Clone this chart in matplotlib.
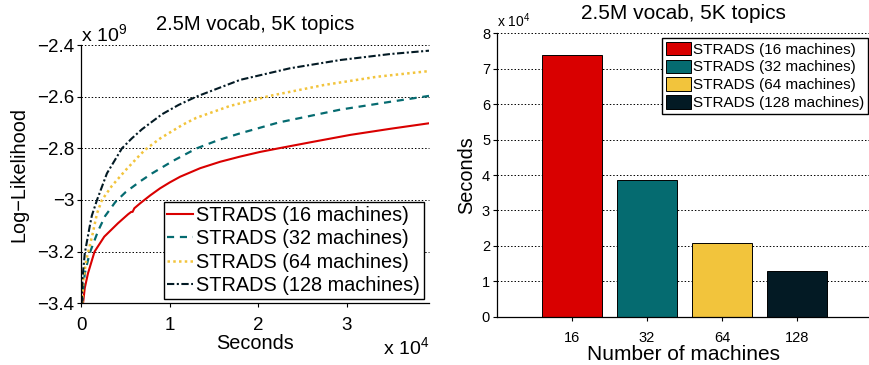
#!/usr/bin/env python3
"""STRADS LDA scaling: log-likelihood over time and time-to-converge per cluster size."""
import matplotlib

matplotlib.use("Agg")
import matplotlib.pyplot as plt

plt.rcParams["font.family"] = ["Liberation Sans", "DejaVu Sans"]
plt.rcParams["mathtext.fontset"] = "custom"
plt.rcParams["mathtext.rm"] = "Liberation Sans"

TITLE = "2.5M vocab, 5K topics"
LABELS = ["STRADS (16 machines)", "STRADS (32 machines)",
          "STRADS (64 machines)", "STRADS (128 machines)"]
COLORS = ["#d90000", "#056b70", "#f2c43c", "#031a24"]

# Left panel: seconds (x 1e4) vs log-likelihood (x 1e9).
t16 = [0.02, 0.04, 0.076, 0.15, 0.26, 0.415, 0.53, 0.565, 0.58, 0.60, 0.665,
       0.78, 0.89, 1.0, 1.117, 1.343, 1.57, 1.795, 2.02, 2.23, 2.6, 3.04,
       3.5, 3.93]
ll16 = [-3.40, -3.34, -3.284, -3.20, -3.142, -3.09, -3.055, -3.046, -3.046,
        -3.032, -3.013, -2.982, -2.955, -2.932, -2.91, -2.877, -2.852, -2.832,
        -2.814, -2.80, -2.776, -2.748, -2.724, -2.703]
t32 = [0.01, 0.02, 0.04, 0.095, 0.19, 0.27, 0.385, 0.50, 0.665, 0.80, 1.04,
       1.305, 1.55, 1.795, 2.23, 2.93, 3.49, 3.93]
ll32 = [-3.40, -3.35, -3.284, -3.206, -3.12, -3.062, -3.008, -2.97, -2.928,
        -2.897, -2.848, -2.80, -2.768, -2.742, -2.70, -2.65, -2.62, -2.597]
t64 = [0.01, 0.02, 0.057, 0.13, 0.178, 0.234, 0.347, 0.50, 0.665, 0.724,
       0.89, 1.15, 1.3, 1.68, 2.13, 2.74, 3.34, 3.93]
ll64 = [-3.40, -3.32, -3.232, -3.129, -3.052, -3.0, -2.945, -2.885, -2.825,
        -2.805, -2.762, -2.708, -2.682, -2.636, -2.597, -2.555, -2.523, -2.501]
t128 = [0.005, 0.015, 0.04, 0.095, 0.12, 0.178, 0.29, 0.46, 0.57, 0.687,
        0.913, 1.1, 1.3, 1.795, 2.36, 2.93, 3.49, 3.93]
ll128 = [-3.40, -3.30, -3.206, -3.103, -3.06, -3.0, -2.897, -2.80, -2.762,
         -2.726, -2.668, -2.632, -2.60, -2.535, -2.49, -2.458, -2.435, -2.422]

LL_TICKS = [-3.4, -3.2, -3.0, -2.8, -2.6, -2.4]
LL_TICKLABELS = ["\u22123.4", "\u22123.2", "\u22123", "\u22122.8", "\u22122.6", "\u22122.4"]
T_TICKS = [0, 1, 2, 3]

# Right panel: seconds (x 1e4) needed per number of machines.
machines = ["16", "32", "64", "128"]
seconds = [7.38, 3.85, 2.08, 1.28]

STYLES = [
    dict(ls="-", lw=1.5),
    dict(ls=(0, (3.2, 2.6)), lw=1.6),
    dict(ls=(0, (1.0, 1.3)), lw=1.8),
    dict(ls=(0, (3.5, 1.2, 1.0, 1.2)), lw=1.5),
]
GRID = dict(color="black", lw=0.7, ls=(0, (1.5, 2)), clip_on=False)

fig = plt.figure(figsize=(8.7, 3.65), dpi=100)

# ---- left: log-likelihood curves
ax = fig.add_axes([0.0934, 0.169, 0.3997, 0.7077])
series = [(t16, ll16), (t32, ll32), (t64, ll64), (t128, ll128)]
for (t, ll), lbl, c, st in zip(series, LABELS, COLORS, STYLES):
    ax.plot(t, ll, color=c, label=lbl, **st)

ax.set_xlim(0, 3.93)
ax.set_ylim(-3.4, -2.4)
ax.set_yticks(LL_TICKS)
ax.set_yticklabels(LL_TICKLABELS)
ax.set_xticks(T_TICKS)
for y in LL_TICKS:
    ax.axhline(y, zorder=0, **GRID)
ax.tick_params(labelsize=13.5, direction="out", length=3, width=0.8, pad=2)
ax.tick_params(axis="x", pad=7)
for s in ("top", "right"):
    ax.spines[s].set_visible(False)
for s in ("left", "bottom"):
    ax.spines[s].set_linewidth(0.9)
ax.set_title(TITLE, fontsize=14.5, pad=11)
ax.set_ylabel("Log\u2212Likelihood", fontsize=14.3, labelpad=6)
ax.set_xlabel("Seconds", fontsize=14.3, labelpad=0)
ax.text(0.0, 1.012, r"x 10$^{9}$", transform=ax.transAxes, fontsize=14,
        ha="left", va="baseline")
ax.text(1.0, -0.2, r"x 10$^{4}$", transform=ax.transAxes, fontsize=14,
        ha="right", va="baseline")
leg = ax.legend(loc="lower right", bbox_to_anchor=(0.986, 0.017),
                borderaxespad=0, fontsize=14.3, fancybox=False,
                edgecolor="black", framealpha=1, handlelength=1.3,
                handletextpad=0.15, labelspacing=0.22, borderpad=0.2)
leg.get_frame().set_linewidth(1.0)

# ---- right: time per cluster size
bx = fig.add_axes([0.5713, 0.1323, 0.4276, 0.7764])
pos = list(range(1, len(machines) + 1))
bars = bx.bar(pos, seconds, width=0.8, color=COLORS, edgecolor="black",
              linewidth=0.7, zorder=2)
bx.set_xlim(0, 4.96)
bx.set_ylim(0, 8)
bx.set_yticks(range(0, 9))
bx.set_xticks(pos)
bx.set_xticklabels(machines)
for y in range(0, 9):
    bx.axhline(y, zorder=1, **GRID)
bx.tick_params(labelsize=10.5, direction="out", length=3, width=0.8, pad=2)
bx.tick_params(axis="x", pad=7)
for s in ("top", "right"):
    bx.spines[s].set_visible(False)
for s in ("left", "bottom"):
    bx.spines[s].set_linewidth(0.9)
bx.set_title(TITLE, fontsize=15, pad=10)
bx.set_ylabel("Seconds", fontsize=14.3, labelpad=4)
bx.set_xlabel("Number of machines", fontsize=15, labelpad=0)
bx.text(0.0, 1.01, r"x 10$^{4}$", transform=bx.transAxes, fontsize=10,
        ha="left", va="bottom")
leg2 = bx.legend(bars, LABELS, loc="upper right", bbox_to_anchor=(0.997, 0.984),
                 borderaxespad=0, fontsize=11, fancybox=False,
                 edgecolor="black", framealpha=1, handlelength=1.6,
                 handleheight=0.95, handletextpad=0.15, labelspacing=0.2,
                 borderpad=0.25)
leg2.get_frame().set_linewidth(1.0)

fig.savefig("out.png", dpi=100)
